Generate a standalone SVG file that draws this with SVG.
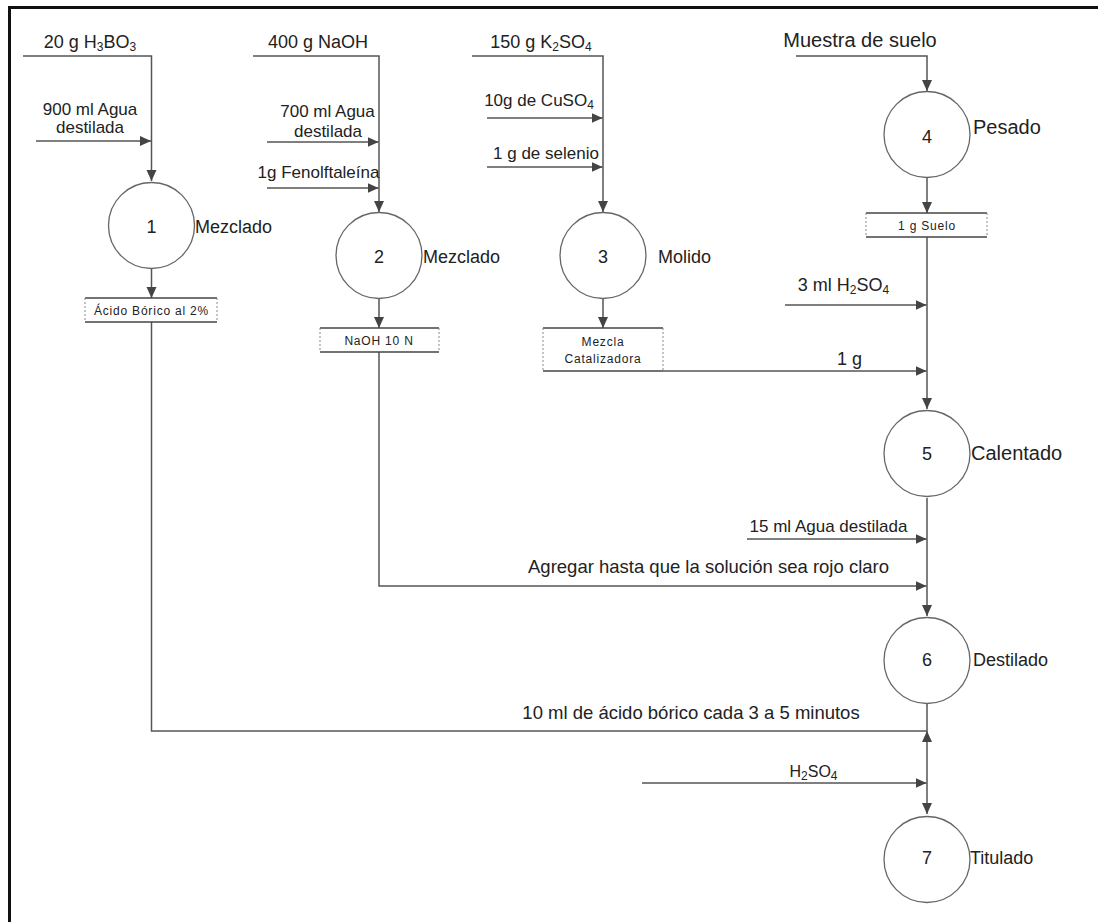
<svg xmlns="http://www.w3.org/2000/svg" width="1098" height="922" viewBox="0 0 1098 922">
<style>
text{font-family:"Liberation Sans",Arial,sans-serif;fill:#222}
.t18{font-size:18px}
.t17{font-size:17px}
.t20{font-size:20px}
.mid{text-anchor:middle}
.bx{font-size:12px;letter-spacing:0.8px;text-anchor:middle}
.c{fill:#fff;stroke:#666;stroke-width:1.3}
.ln{fill:none;stroke:#555;stroke-width:1.5}
.arr{marker-end:url(#ah)}
.bs{stroke:#444;stroke-width:1.3}
.bd{stroke:#888;stroke-width:1;stroke-dasharray:2 2}
.sub{font-size:12px}
</style>
<defs>
<marker id="ah" markerUnits="userSpaceOnUse" markerWidth="12" markerHeight="12" refX="11" refY="5" orient="auto-start-reverse">
<path d="M0,0 L11,5 L0,10 z" fill="#444"/>
</marker>
</defs>
<rect width="1098" height="922" fill="#fff"/>
<g id="frame" stroke="#111" stroke-width="3" fill="none">
<line x1="8" y1="7.5" x2="1098" y2="7.5"/>
<line x1="9.5" y1="6" x2="9.5" y2="922"/>
</g>
<g id="connectors">
<path class="ln arr" d="M23,56 H151.5 V181"/>
<path class="ln arr" d="M36,141 H151"/>
<path class="ln arr" d="M151.5,269 V298"/>
<path class="ln" d="M151.5,322 V731 H927"/>
<path class="ln arr" d="M253,56 H379 V212"/>
<path class="ln arr" d="M267,142 H378.5"/>
<path class="ln arr" d="M267,188 H378.5"/>
<path class="ln arr" d="M379,298 V328"/>
<path class="ln arr" d="M379,352 V586 H926.5"/>
<path class="ln arr" d="M472,56 H603 V212"/>
<path class="ln arr" d="M487,118 H602.5"/>
<path class="ln arr" d="M487,167 H602.5"/>
<path class="ln arr" d="M603,298 V328"/>
<path class="ln arr" d="M663,371 H926.5"/>
<path class="ln arr" d="M796,56 H927 V91"/>
<path class="ln arr" d="M927,177 V213"/>
<path class="ln arr" d="M927,237 V409"/>
<path class="ln arr" d="M785,305 H926.5"/>
<path class="ln arr" d="M927,498 V616"/>
<path class="ln arr" d="M747,539 H926.5"/>
<path class="ln" d="M927,704 V731"/>
<path class="ln" d="M927,731 V814" style="marker-start:url(#ah);marker-end:url(#ah)"/>
<path class="ln arr" d="M642,783 H926.5"/>
</g>
<g id="labels">
<text class="t18 mid" x="90" y="48">20 g H<tspan class="sub" dy="3">3</tspan><tspan dy="-3">BO</tspan><tspan class="sub" dy="3">3</tspan></text>
<text class="t17 mid" x="90" y="115">900 ml Agua</text>
<text class="t17 mid" x="90" y="133">destilada</text>
<text class="t18 mid" x="318" y="48">400 g NaOH</text>
<text class="t17 mid" x="327.5" y="117">700 ml Agua</text>
<text class="t17 mid" x="328" y="137">destilada</text>
<text class="t17 mid" x="318.5" y="178">1g Fenolftaleína</text>
<text class="t18 mid" x="541" y="48">150 g K<tspan class="sub" dy="3">2</tspan><tspan dy="-3">SO</tspan><tspan class="sub" dy="3">4</tspan></text>
<text class="t17 mid" x="539" y="106">10g de CuSO<tspan class="sub" dy="3">4</tspan></text>
<text class="t17 mid" x="546" y="159">1 g de selenio</text>
<text class="t20 mid" x="860" y="47">Muestra de suelo</text>
<text class="t18 mid" x="843.5" y="291">3 ml H<tspan class="sub" dy="3">2</tspan><tspan dy="-3">SO</tspan><tspan class="sub" dy="3">4</tspan></text>
<text class="t18 mid" x="849.5" y="365">1 g</text>
<text class="t17 mid" x="828.5" y="532">15 ml Agua destilada</text>
<text class="mid" style="font-size:18.5px" x="708.5" y="573">Agregar hasta que la solución sea rojo claro</text>
<text class="mid" style="font-size:18.5px" x="691" y="719">10 ml de ácido bórico cada 3 a 5 minutos</text>
<text class="mid" style="font-size:16px" x="813.5" y="777">H<tspan class="sub" dy="3">2</tspan><tspan dy="-3">SO</tspan><tspan class="sub" dy="3">4</tspan></text>
</g>
<g id="node1">
<circle class="c" cx="151.5" cy="225.5" r="43"/>
<text class="t18 mid" x="151.5" y="233">1</text>
<text class="t18" x="195" y="233">Mezclado</text>
</g>
<g id="box1">
<line class="bs" x1="85" y1="298" x2="217" y2="298"/>
<line class="bs" x1="85" y1="322" x2="217" y2="322"/>
<line class="bd" x1="85" y1="298" x2="85" y2="322"/>
<line class="bd" x1="217" y1="298" x2="217" y2="322"/>
<text class="bx" x="151.5" y="314.5">Ácido Bórico al 2%</text>
</g>
<g id="node2">
<circle class="c" cx="379" cy="255.5" r="43"/>
<text class="t18 mid" x="379" y="263">2</text>
<text class="t18" x="423" y="263">Mezclado</text>
</g>
<g id="box2">
<line class="bs" x1="320" y1="328" x2="439" y2="328"/>
<line class="bs" x1="320" y1="352" x2="439" y2="352"/>
<line class="bd" x1="320" y1="328" x2="320" y2="352"/>
<line class="bd" x1="439" y1="328" x2="439" y2="352"/>
<text class="bx" x="379" y="344.5">NaOH 10 N</text>
</g>
<g id="node3">
<circle class="c" cx="603" cy="255.5" r="43"/>
<text class="t18 mid" x="603" y="263">3</text>
<text class="t18" x="658" y="263">Molido</text>
</g>
<g id="box3">
<line class="bs" x1="543" y1="328" x2="663" y2="328"/>
<line class="bs" x1="543" y1="371" x2="663" y2="371"/>
<line class="bd" x1="543" y1="328" x2="543" y2="371"/>
<line class="bd" x1="663" y1="328" x2="663" y2="371"/>
<text class="bx" x="603" y="346">Mezcla</text>
<text class="bx" x="603" y="363">Catalizadora</text>
</g>
<g id="node4">
<circle class="c" cx="927" cy="134.5" r="43"/>
<text class="t18 mid" x="927" y="143">4</text>
<text class="t20" x="973" y="134">Pesado</text>
</g>
<g id="box4">
<line class="bs" x1="866" y1="213" x2="987" y2="213"/>
<line class="bs" x1="866" y1="237" x2="987" y2="237"/>
<line class="bd" x1="866" y1="213" x2="866" y2="237"/>
<line class="bd" x1="987" y1="213" x2="987" y2="237"/>
<text class="bx" x="927" y="229.5">1 g Suelo</text>
</g>
<g id="node5">
<circle class="c" cx="927" cy="453.5" r="43"/>
<text class="t18 mid" x="927" y="460">5</text>
<text class="t20" x="971" y="460">Calentado</text>
</g>
<g id="node6">
<circle class="c" cx="927" cy="660.5" r="43"/>
<text class="t18 mid" x="927" y="666">6</text>
<text class="t18" x="973" y="666">Destilado</text>
</g>
<g id="node7">
<circle class="c" cx="927" cy="859.5" r="43"/>
<text class="t18 mid" x="927" y="864">7</text>
<text class="t18" x="970" y="864">Titulado</text>
</g>
</svg>
